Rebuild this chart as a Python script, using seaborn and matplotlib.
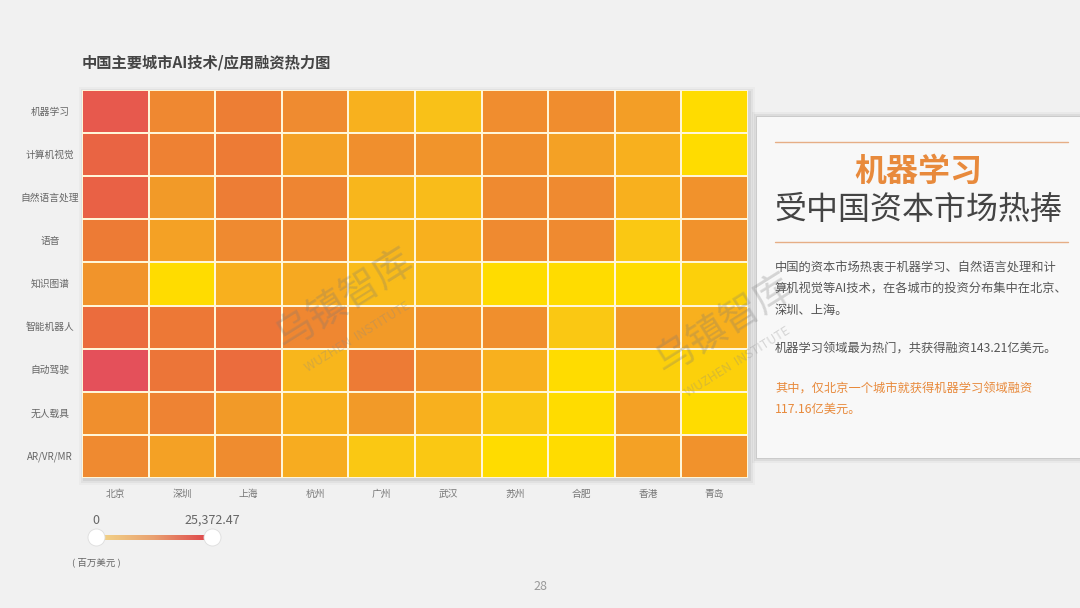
import numpy as np
import pandas as pd
import matplotlib
matplotlib.use('Agg')
import matplotlib.pyplot as plt
import seaborn as sns
from matplotlib.colors import LinearSegmentedColormap, LogNorm
from matplotlib.patches import Rectangle

sns.set_theme(style='white')
plt.rcParams['font.family'] = ['Noto Sans CJK SC', 'DejaVu Sans']

# ── DATA (百万美元, estimated from the colours) ──────────────────────────────
cities = ['北京', '深圳', '上海', '杭州', '广州', '武汉', '苏州', '合肥', '香港', '青岛']
techs = ['机器学习', '计算机视觉', '自然语言处理', '语音', '知识图谱',
         '智能机器人', '自动驾驶', '无人载具', 'AR/VR/MR']

ml       = [11716, 500, 960, 400, 20, 5, 330, 320, 70, 1]
cv       = [5540, 810, 1210, 58, 265, 160, 265, 58, 21, 1]
nlp      = [6790, 96, 1100, 595, 12.6, 7.5, 439, 439, 21, 195]
speech   = [1210, 58, 439, 439, 12.6, 21, 439, 439, 3.4, 195]
kg       = [160, 1, 21, 35, 7.5, 5.6, 1, 1, 1, 2]
robot    = [3340, 1470, 1817, 530, 96, 195, 265, 3.4, 96, 21]
driving  = [25372.47, 1817, 3340, 12.6, 1210, 195, 21, 1, 2, 2]
drone    = [265, 700, 96, 21, 96, 21, 3.4, 1, 58, 1]
arvr     = [439, 58, 360, 28, 3.4, 3.4, 1, 1, 58, 195]

vmax = 25372.47

df = pd.DataFrame([ml, cv, nlp, speech, kg, robot, driving, drone, arvr],
                  index=techs, columns=cities)

# ── COLOURS ──────────────────────────────────────────────────────────────────
cell_cmap = LinearSegmentedColormap.from_list('heat', [
    (0.00, '#ffdc00'), (0.15, '#f9c218'), (0.30, '#f8b01e'), (0.45, '#f29a28'),
    (0.60, '#ef8a30'), (0.75, '#ec7438'), (0.90, '#e85c48'), (1.00, '#e4505a')])
legend_cmap = LinearSegmentedColormap.from_list('leg', ['#f3d98a', '#e9a070', '#de3f48'])

BG = '#f1f1f1'
GREY = '#555555'
ORANGE = '#e88a3c'

fig = plt.figure(figsize=(10.8, 6.08), dpi=100, facecolor=BG)

# title
fig.text(82 / 1080, 1 - 62 / 608, '中国主要城市AI技术/应用融资热力图',
         fontsize=11, fontweight='bold', color='#444444', va='center', ha='left')

# soft drop shadow behind the heatmap
for k, a in enumerate([0.06, 0.04, 0.025]):
    d = 1 + k * 2
    fig.patches.append(Rectangle(((82 - d + 2) / 1080, 1 - (478 + d + 2) / 608),
                                 (666 + 2 * d) / 1080, (388 + 2 * d) / 608,
                                 transform=fig.transFigure, facecolor='black',
                                 alpha=a, edgecolor='none', zorder=0))

ax = fig.add_axes([82 / 1080, 1 - 478 / 608, 666 / 1080, 388 / 608], zorder=2)
sns.heatmap(df, ax=ax, cmap=cell_cmap, norm=LogNorm(vmin=1, vmax=vmax),
            cbar=False, linewidths=1.3, linecolor='#fff6d8', square=False)
ax.set_xlabel('')
ax.set_ylabel('')
ax.tick_params(axis='both', length=0)
ax.tick_params(axis='y', pad=23)
ax.tick_params(axis='x', pad=8)
for lbl in ax.get_yticklabels():
    lbl.set_rotation(0)
    lbl.set_ha('center')
    lbl.set_fontsize(7)
    lbl.set_color('#666666')
for lbl in ax.get_xticklabels():
    lbl.set_rotation(0)
    lbl.set_fontsize(7)
    lbl.set_color('#777777')

# watermarks
for (wx, wy) in [(345 / 1080, 1 - 300 / 608), (725 / 1080, 1 - 325 / 608)]:
    fig.text(wx, wy, '乌镇智库', fontsize=28, color='#777777',
             alpha=0.28, rotation=32, ha='center', va='center', zorder=10)
    fig.text(wx + 0.012, wy - 0.06, 'WUZHEN  INSTITUTE', fontsize=9, color='#888888',
             alpha=0.3, rotation=32, ha='center', va='center', zorder=10)

# ── LEGEND SLIDER ─────────────────────────────────────────────────────────────
cax = fig.add_axes([96 / 1080, 1 - 540 / 608, 116 / 1080, 5 / 608])
grad = np.linspace(0, vmax, 256).reshape(1, -1)
cax.imshow(grad, aspect='auto', cmap=legend_cmap, extent=[0, vmax, 0, 1])
cax.set_axis_off()
hax = fig.add_axes([86 / 1080, 1 - 552 / 608, 136 / 1080, 30 / 608])
hax.set_xlim(-vmax * 10 / 116, vmax * 126 / 116)
hax.set_ylim(0, 1)
hax.scatter([0, vmax], [0.5, 0.5], s=150, color='white', edgecolor='#dddddd',
            linewidth=0.6, zorder=3)
hax.set_axis_off()
hax.patch.set_alpha(0)
fig.text(96 / 1080, 1 - 520 / 608, '0', fontsize=9, color='#666666',
         ha='center', va='center')
fig.text(212 / 1080, 1 - 520 / 608, f'{vmax:,.2f}', fontsize=9, color='#666666',
         ha='center', va='center')
fig.text(96 / 1080, 1 - 562 / 608, '( 百万美元 )', fontsize=6.8, color='#666666',
         ha='center', va='center')

fig.text(540 / 1080, 1 - 587 / 608, '28', fontsize=9, color='#999999',
         ha='center', va='center')

# ── RIGHT PANEL ──────────────────────────────────────────────────────────────
for k, a in enumerate([0.08, 0.05, 0.03]):
    d = 1 + k * 2
    fig.patches.append(Rectangle(((757 - d) / 1080, 1 - (458 + d) / 608),
                                 (330 + d) / 1080, (341 + 2 * d) / 608,
                                 transform=fig.transFigure, facecolor='black',
                                 alpha=a, edgecolor='none', zorder=0))
fig.patches.append(Rectangle((757 / 1080, 1 - 458 / 608), 330 / 1080, 341 / 608,
                             transform=fig.transFigure, facecolor='#f8f8f8',
                             edgecolor='none', zorder=0))
for ly in (142, 242):
    fig.add_artist(plt.Line2D([775 / 1080, 1068 / 1080], [1 - ly / 608] * 2,
                              transform=fig.transFigure, color='#e6ae86', lw=1))
fig.text(918 / 1080, 1 - 172 / 608, '机器学习', fontsize=23, fontweight='bold',
         color=ORANGE, ha='center', va='center')
fig.text(918 / 1080, 1 - 210 / 608, '受中国资本市场热捧', fontsize=23,
         color='#444444', ha='center', va='center')

para = [('中国的资本市场热衷于机器学习、自然语言处理和计', 268, GREY),
        ('算机视觉等AI技术，在各城市的投资分布集中在北京、', 289, GREY),
        ('深圳、上海。', 310, GREY),
        ('机器学习领域最为热门，共获得融资143.21亿美元。', 349, GREY),
        ('其中，仅北京一个城市就获得机器学习领域融资', 389, ORANGE),
        ('117.16亿美元。', 409, ORANGE)]
for txt, py, col in para:
    fig.text(775 / 1080, 1 - py / 608, txt, fontsize=8.8, color=col,
             ha='left', va='center')

fig.savefig('out.png', dpi=100, facecolor=BG)
